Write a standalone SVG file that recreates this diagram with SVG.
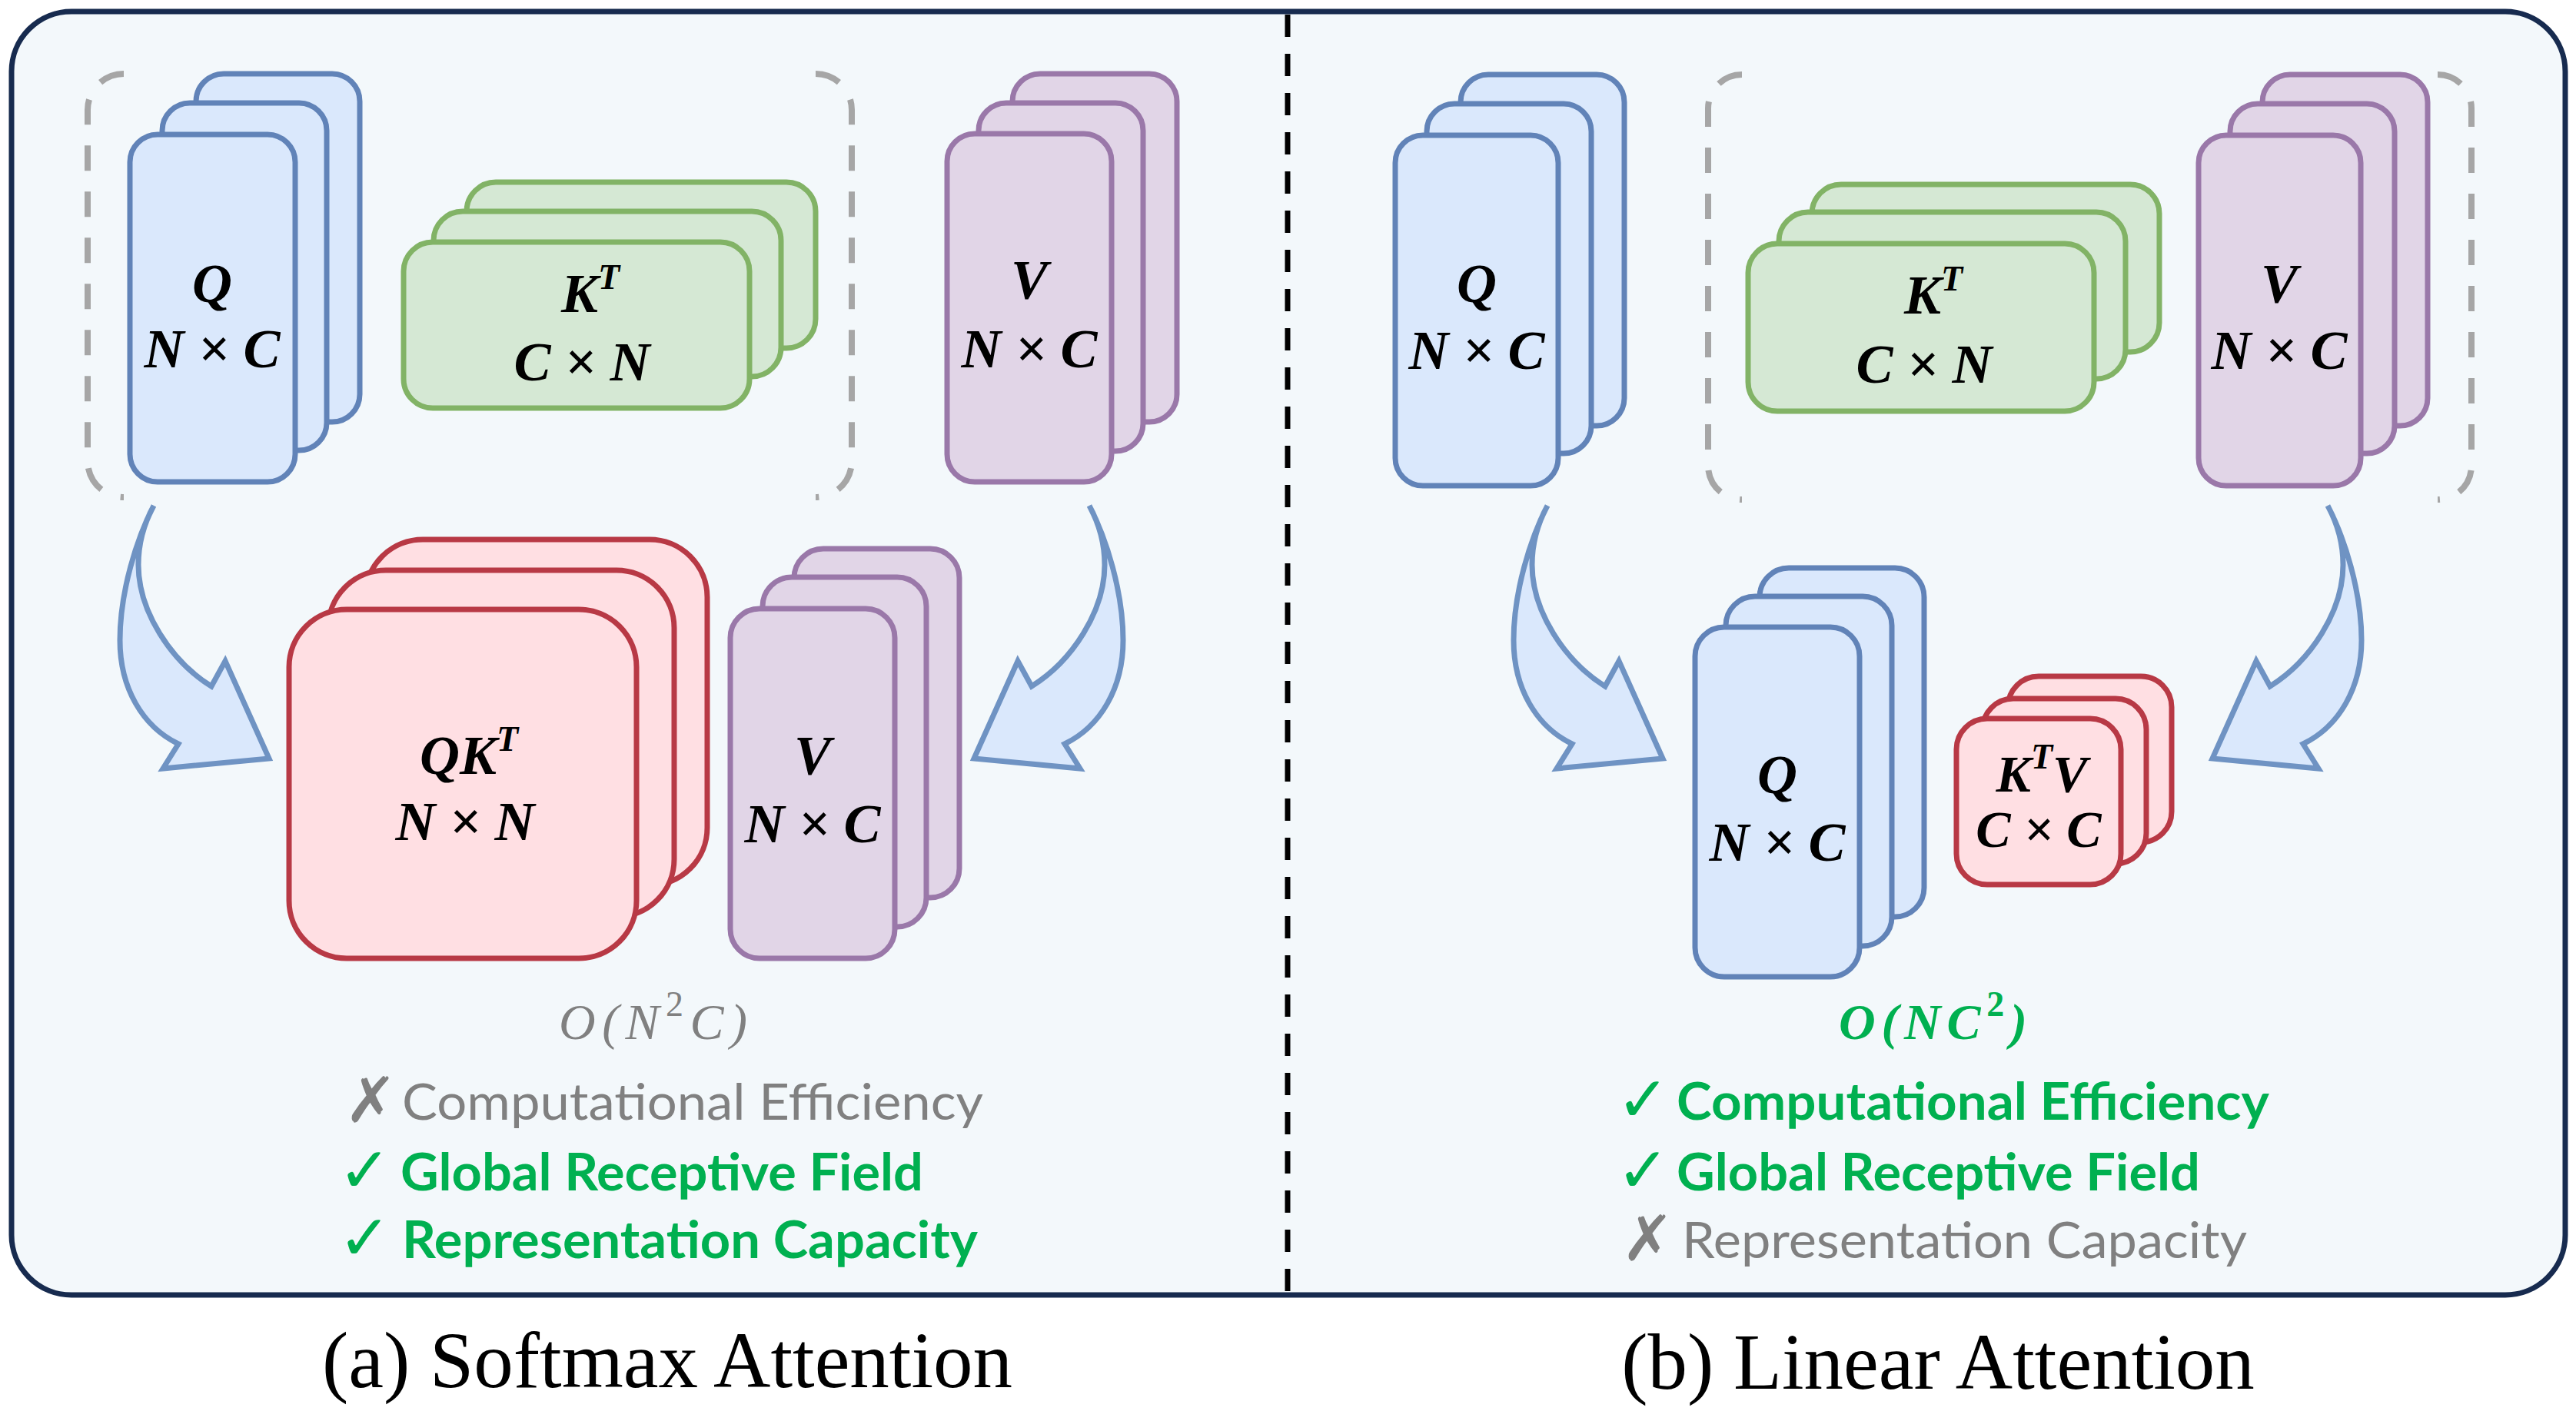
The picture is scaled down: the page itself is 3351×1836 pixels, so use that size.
<svg xmlns="http://www.w3.org/2000/svg" width="3351" height="1836" viewBox="0 0 3351 1836">
<style>
.bl{fill:#dae8fc;stroke:#6183b8;stroke-width:7}
.gr{fill:#d5e8d4;stroke:#82b366;stroke-width:7}
.pu{fill:#e1d5e7;stroke:#9a78a9;stroke-width:7}
.rd{fill:#ffdfe3;stroke:#b83945;stroke-width:7}
.arr{fill:#dae8fc;stroke:#6f93c3;stroke-width:7;stroke-linejoin:miter}
.brk{fill:none;stroke:#a6a6a6;stroke-width:8;stroke-dasharray:33 27}
.lbl{font-family:"Liberation Serif",serif;font-weight:bold;font-style:italic;font-size:72px;fill:#000;text-anchor:middle}
.sm{font-size:68px}
.sup{font-size:46px}
.cx{font-family:"Liberation Serif",serif;font-style:italic;font-size:66px}
.li{font-family:Lato,"Open Sans",sans-serif;font-size:66px}
.mk{font-family:"DejaVu Sans",sans-serif;font-size:82px}
.g{fill:#00b050}
.gy{fill:#808080}
.cap{font-family:"Liberation Serif",serif;font-size:103px;fill:#000;text-anchor:middle}
</style>
<defs>
<path id="arrow" d="M200,658 C178,700 156,770 156,833 C156,895 185,945 232,968 L212,1000 L350,987 L293,860 L275,893 C222,860 180,795 180,735 C180,705 188,680 200,658 Z"/>
</defs>
<rect id="panel" x="15" y="15" width="3322" height="1670" rx="78" fill="#f3f8fb" stroke="#172b4f" stroke-width="7"/>
<g id="connectors">
<line x1="1675" y1="19" x2="1675" y2="1682" stroke="#000" stroke-width="7" stroke-dasharray="29 22"/>
<use href="#arrow" class="arr"/>
<use href="#arrow" class="arr" transform="translate(1617,0) scale(-1,1)"/>
<use href="#arrow" class="arr" transform="translate(1813,0)"/>
<use href="#arrow" class="arr" transform="translate(3228,0) scale(-1,1)"/>
</g>
<g id="bracket-a">
<path class="brk" d="M161,96 A47,47 0 0 0 114,143 L114,600 A47,47 0 0 0 161,647"/>
<path class="brk" d="M1061,96 A47,47 0 0 1 1108,143 L1108,600 A47,47 0 0 1 1061,647"/>
</g>
<g id="bracket-b">
<path class="brk" d="M2266,97 A44,44 0 0 0 2222,141 L2222,606 A44,44 0 0 0 2266,650"/>
<path class="brk" d="M3171,97 A44,44 0 0 1 3215,141 L3215,606 A44,44 0 0 1 3171,650"/>
</g>
<g id="a-Q">
<rect class="bl" x="255" y="96" width="213" height="453" rx="36"/>
<rect class="bl" x="211" y="134" width="214" height="452" rx="36"/>
<rect class="bl" x="169" y="175" width="215" height="452" rx="36"/>
<text class="lbl" x="276" y="393">Q</text>
<text class="lbl" x="276" y="478">N × C</text>
</g>
<g id="a-K">
<rect class="gr" x="607" y="237" width="454" height="216" rx="38"/>
<rect class="gr" x="564" y="275" width="452" height="215" rx="38"/>
<rect class="gr" x="525" y="315" width="450" height="216" rx="38"/>
<text class="lbl" x="768" y="406">K<tspan class="sup" dy="-30">T</tspan></text>
<text class="lbl" x="757" y="495">C × N</text>
</g>
<g id="a-V">
<rect class="pu" x="1317" y="96" width="214" height="453" rx="36"/>
<rect class="pu" x="1273" y="134" width="214" height="453" rx="36"/>
<rect class="pu" x="1232" y="174" width="214" height="453" rx="36"/>
<text class="lbl" x="1339" y="388">V</text>
<text class="lbl" x="1339" y="478">N × C</text>
</g>
<g id="a-QK">
<rect class="rd" x="475" y="702" width="445" height="450" rx="75"/>
<rect class="rd" x="427" y="742" width="450" height="451" rx="75"/>
<rect class="rd" x="376" y="793" width="452" height="454" rx="75"/>
<text class="lbl" x="610" y="1007">QK<tspan class="sup" dy="-30">T</tspan></text>
<text class="lbl" x="605" y="1093">N × N</text>
</g>
<g id="a-V2">
<rect class="pu" x="1033" y="714" width="215" height="454" rx="38"/>
<rect class="pu" x="992" y="751" width="213" height="455" rx="38"/>
<rect class="pu" x="950" y="792" width="214" height="455" rx="38"/>
<text class="lbl" x="1057" y="1007">V</text>
<text class="lbl" x="1057" y="1096">N × C</text>
</g>
<g id="b-Q">
<rect class="bl" x="1900" y="97" width="213" height="457" rx="36"/>
<rect class="bl" x="1856" y="135" width="214" height="455" rx="36"/>
<rect class="bl" x="1815" y="176" width="212" height="456" rx="36"/>
<text class="lbl" x="1921" y="393">Q</text>
<text class="lbl" x="1921" y="480">N × C</text>
</g>
<g id="b-K">
<rect class="gr" x="2357" y="240" width="452" height="218" rx="38"/>
<rect class="gr" x="2314" y="276" width="451" height="217" rx="38"/>
<rect class="gr" x="2274" y="317" width="450" height="218" rx="38"/>
<text class="lbl" x="2515" y="408">K<tspan class="sup" dy="-30">T</tspan></text>
<text class="lbl" x="2503" y="498">C × N</text>
</g>
<g id="b-V">
<rect class="pu" x="2943" y="97" width="215" height="457" rx="36"/>
<rect class="pu" x="2901" y="135" width="214" height="455" rx="36"/>
<rect class="pu" x="2860" y="176" width="211" height="456" rx="36"/>
<text class="lbl" x="2965" y="393">V</text>
<text class="lbl" x="2965" y="480">N × C</text>
</g>
<g id="b-Q2">
<rect class="bl" x="2289" y="739" width="214" height="454" rx="38"/>
<rect class="bl" x="2245" y="776" width="216" height="455" rx="38"/>
<rect class="bl" x="2205" y="816" width="214" height="455" rx="38"/>
<text class="lbl" x="2312" y="1032">Q</text>
<text class="lbl" x="2312" y="1120">N × C</text>
</g>
<g id="b-KV">
<rect class="rd" x="2612" y="880" width="213" height="216" rx="40"/>
<rect class="rd" x="2579" y="909" width="213" height="215" rx="40"/>
<rect class="rd" x="2545" y="935" width="214" height="216" rx="40"/>
<text class="lbl sm" x="2656" y="1030">K<tspan class="sup" dy="-30">T</tspan><tspan dy="30">V</tspan></text>
<text class="lbl sm" x="2652" y="1102">C × C</text>
</g>
<g id="a-text">
<text class="cx gy" x="727" y="1352" textLength="245" lengthAdjust="spacing">O(N<tspan font-style="normal" font-size="46" dy="-30">2</tspan><tspan dy="30">C)</tspan></text>
<text class="mk gy" x="448" y="1460">✗</text>
<text class="li gy" x="523" y="1457" textLength="756" lengthAdjust="spacingAndGlyphs">Computational Efficiency</text>
<text class="mk g" x="440" y="1551">✓</text>
<text class="li g" x="521" y="1549" font-weight="bold" textLength="680" lengthAdjust="spacingAndGlyphs">Global Receptive Field</text>
<text class="mk g" x="440" y="1639">✓</text>
<text class="li g" x="523" y="1637" font-weight="bold" textLength="749" lengthAdjust="spacingAndGlyphs">Representation Capacity</text>
<text class="cap" x="868" y="1805">(a) Softmax Attention</text>
</g>
<g id="b-text">
<text class="cx g" x="2392" y="1352" font-weight="bold" textLength="245" lengthAdjust="spacing">O(NC<tspan font-style="normal" font-size="46" dy="-30">2</tspan><tspan dy="30">)</tspan></text>
<text class="mk g" x="2103" y="1459">✓</text>
<text class="li g" x="2181" y="1457" font-weight="bold" textLength="771" lengthAdjust="spacingAndGlyphs">Computational Efficiency</text>
<text class="mk g" x="2103" y="1551">✓</text>
<text class="li g" x="2181" y="1549" font-weight="bold" textLength="681" lengthAdjust="spacingAndGlyphs">Global Receptive Field</text>
<text class="mk gy" x="2109" y="1640">✗</text>
<text class="li gy" x="2188" y="1637" textLength="735" lengthAdjust="spacingAndGlyphs">Representation Capacity</text>
<text class="cap" x="2521" y="1807">(b) Linear Attention</text>
</g>
</svg>
